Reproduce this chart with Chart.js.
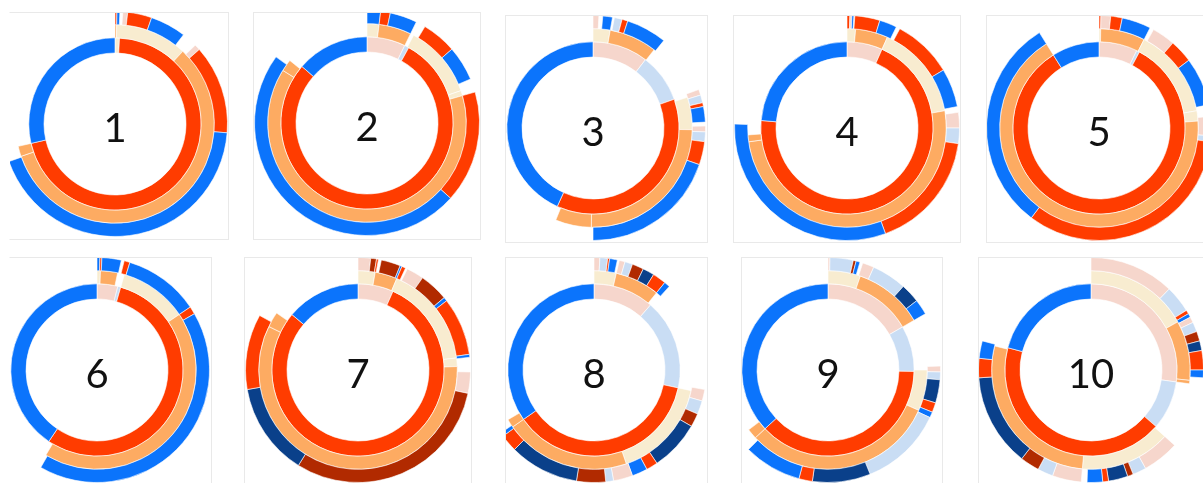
<!DOCTYPE html>
<html>
<head>
<meta charset="utf-8">
<script src="https://cdn.jsdelivr.net/npm/chart.js@4"></script>
<style>
  body { margin: 0; background: #fff; width: 1203px; height: 483px; overflow: hidden; position: relative; }
  .panel { position: absolute; overflow: hidden; border: 1px solid #e9e9e9; box-sizing: border-box; }
  .panel.noleft { border-left-color: transparent; }
  .panel canvas { position: absolute; }
</style>
</head>
<body>
<script>
// segment sizes in degrees, clockwise from 12 o'clock
// categories: B blue, R red, O orange, Y beige, P pink, L light blue, D dark blue, M maroon, _ empty
const panelLabels = ["1", "2", "3", "4", "5", "6", "7", "8", "9", "10"];

const p1Inner = [3, 254, 103];
const p1InnerCats = ["Y", "R", "B"];
const p1Mid = [1, 42, 208, 6, 103];
const p1MidCats = ["O", "Y", "O", "O", "_"];
const p1Outer = [1, 1.5, 1.5, 2.5, 12.5, 18.5, 8, 3, 46, 156, 109.5];
const p1OuterCats = ["R", "B", "_", "P", "R", "B", "_", "P", "R", "B", "_"];

const p2Inner = [26, 3, 282, 49];
const p2InnerCats = ["P", "L", "R", "B"];
const p2Mid = [7, 19, 2, 43, 3, 228, 7, 51];
const p2MidCats = ["Y", "O", "_", "Y", "Y", "O", "O", "_"];
const p2Outer = [7, 5, 14, 5, 18, 18, 7, 58, 174, 54];
const p2OuterCats = ["B", "R", "B", "_", "R", "B", "_", "R", "B", "_"];

const p3Inner = [37.5, 33, 134, 155.5];
const p3InnerCats = ["P", "L", "R", "B"];
const p3Mid = [10, 28, 34, 19, 90, 21, 158];
const p3MidCats = ["Y", "O", "_", "Y", "O", "O", "_"];
const p3Outer = [3, 2, 5, 1, 4, 3, 21, 31, 3, 4, 2, 8, 2, 3, 5, 12, 71, 180];
const p3OuterCats = ["P", "_", "B", "_", "L", "R", "B", "_", "P", "L", "R", "B", "_", "P", "L", "R", "B", "_"];

const p4Inner = [24, 251, 85];
const p4InnerCats = ["P", "R", "B"];
const p4Mid = [5, 19, 56, 182, 4, 94];
const p4MidCats = ["Y", "O", "Y", "O", "O", "_"];
const p4Outer = [1.5, 1, 1, 0.5, 13, 9, 2, 31, 20, 3, 8, 8, 62, 112, 88];
const p4OuterCats = ["R", "P", "B", "_", "R", "B", "_", "R", "B", "_", "P", "L", "R", "B", "_"];

const p5Inner = [26, 2, 300, 32];
const p5InnerCats = ["P", "L", "R", "B"];
const p5Mid = [1, 26, 53, 6, 242, 32];
const p5MidCats = ["Y", "O", "Y", "Y", "O", "_"];
const p5Outer = [1, 5, 6, 15, 2, 12, 12, 25, 6, 10, 3, 120, 111, 32];
const p5OuterCats = ["R", "P", "R", "B", "_", "P", "R", "B", "_", "P", "L", "R", "B", "_"];

const p6Inner = [14, 2, 198, 146];
const p6InnerCats = ["P", "L", "R", "B"];
const p6Mid = [2, 10, 4, 40, 155, 149];
const p6MidCats = ["Y", "O", "_", "Y", "O", "_"];
const p6Outer = [1.5, 1, 10, 1.5, 3, 39, 4, 150, 150];
const p6OuterCats = ["B", "R", "B", "_", "R", "B", "R", "B", "_"];

const p7Inner = [24, 286, 50];
const p7InnerCats = ["P", "R", "B"];
const p7Mid = [10, 13, 60, 5, 208, 9, 55];
const p7MidCats = ["Y", "O", "Y", "Y", "O", "O", "_"];
const p7Outer = [6.5, 3, 1, 1.5, 10, 1, 2, 1, 9, 15, 2, 30, 1.5, 7.5, 11, 110, 48, 39, 61];
const p7OuterCats = ["P", "M", "R", "_", "M", "B", "R", "_", "P", "M", "B", "R", "B", "_", "P", "M", "D", "R", "_"];

const p8Inner = [41, 61, 133, 125];
const p8InnerCats = ["P", "L", "R", "B"];
const p8Mid = [13, 26, 63, 59, 74, 5, 120];
const p8MidCats = ["Y", "O", "_", "Y", "O", "O", "_"];
const p8Outer = [3, 4, 1, 4, 1, 3, 4, 6, 6, 7, 3, 58, 6, 7, 7, 26, 6, 8, 10, 4, 15, 36, 9, 2, 124];
const p8OuterCats = ["P", "L", "R", "B", "_", "P", "L", "M", "D", "R", "B", "_", "P", "L", "M", "D", "R", "B", "P", "L", "M", "D", "R", "B", "_"];

const p9Inner = [60, 31, 136, 133];
const p9InnerCats = ["P", "L", "R", "B"];
const p9Mid = [19, 41, 30, 24, 113, 6, 127];
const p9MidCats = ["Y", "O", "_", "Y", "O", "O", "_"];
const p9Outer = [1, 12, 1.5, 2, 1.5, 6, 18, 10, 8, 28, 3, 4, 12, 5, 3, 43, 30, 7, 30, 135];
const p9OuterCats = ["P", "L", "M", "B", "_", "P", "L", "D", "B", "_", "P", "L", "D", "R", "B", "L", "D", "R", "B", "_"];

const p10Inner = [98, 33, 154, 75];
const p10InnerCats = ["P", "L", "R", "B"];
const p10Mid = [61, 35, 2, 34, 53, 99, 76];
const p10MidCats = ["Y", "O", "O", "_", "Y", "O", "_"];
const p10Outer = [44, 14, 2, 2, 3, 5, 5, 5, 10, 4, 38, 19, 7, 3, 10, 3, 8, 3, 15, 8, 10, 48, 10, 9, 75];
const p10OuterCats = ["P", "L", "R", "B", "P", "L", "M", "D", "R", "B", "_", "P", "L", "M", "D", "R", "B", "_", "P", "L", "M", "D", "R", "B", "_"];

const rings = [
  [p1Inner, p1InnerCats, p1Mid, p1MidCats, p1Outer, p1OuterCats],
  [p2Inner, p2InnerCats, p2Mid, p2MidCats, p2Outer, p2OuterCats],
  [p3Inner, p3InnerCats, p3Mid, p3MidCats, p3Outer, p3OuterCats],
  [p4Inner, p4InnerCats, p4Mid, p4MidCats, p4Outer, p4OuterCats],
  [p5Inner, p5InnerCats, p5Mid, p5MidCats, p5Outer, p5OuterCats],
  [p6Inner, p6InnerCats, p6Mid, p6MidCats, p6Outer, p6OuterCats],
  [p7Inner, p7InnerCats, p7Mid, p7MidCats, p7Outer, p7OuterCats],
  [p8Inner, p8InnerCats, p8Mid, p8MidCats, p8Outer, p8OuterCats],
  [p9Inner, p9InnerCats, p9Mid, p9MidCats, p9Outer, p9OuterCats],
  [p10Inner, p10InnerCats, p10Mid, p10MidCats, p10Outer, p10OuterCats]
];

const palette = {
  B: "#0b74fc", R: "#ff3c00", O: "#fdab62", Y: "#f8ecd0",
  P: "#f6d6cc", L: "#c9ddf4", D: "#0a408a", M: "#b12a00", _: "rgba(0,0,0,0)"
};

// panel frames [left, top, right, bottom] and chart centres [cx, cy]
const frames = [
  [9, 12, 229, 240], [253, 12, 481, 240], [505, 15, 708, 243], [733, 15, 961, 243], [986, 15, 1215, 243],
  [9, 257, 212, 495], [244, 257, 472, 495], [505, 257, 708, 495], [741, 257, 943, 495], [978, 257, 1215, 495]
];
const centres = [
  [115, 124], [367, 123], [593, 128], [847, 128], [1099, 128],
  [97, 370], [358, 370], [594, 370], [828, 370], [1091, 370]
];

const SIZE = 240;
const OUTER_R = 112.5;
const INNER_R = 71;

const centerLabel = {
  id: "centerLabel",
  afterDraw(chart, args, opts) {
    const ctx = chart.ctx;
    const arc = chart.getDatasetMeta(0).data[0];
    ctx.save();
    ctx.font = "40px Lato";
    ctx.fillStyle = "#111";
    ctx.textAlign = "center";
    ctx.textBaseline = "middle";
    ctx.fillText(opts.text, arc.x, arc.y + 5);
    ctx.restore();
  }
};

function ring(values, cats, weight) {
  return {
    data: values,
    backgroundColor: cats.map(c => palette[c]),
    borderColor: cats.map(c => c === "_" ? "rgba(0,0,0,0)" : "rgba(255,255,255,0.6)"),
    borderWidth: 1,
    weight: weight
  };
}

rings.forEach((r, i) => {
  const [l, t, rt, b] = frames[i];
  const [cx, cy] = centres[i];
  const div = document.createElement("div");
  div.className = "panel" + (l < 20 ? " noleft" : "");
  div.style.left = l + "px";
  div.style.top = t + "px";
  div.style.width = (rt - l) + "px";
  div.style.height = (b - t) + "px";
  const canvas = document.createElement("canvas");
  canvas.width = SIZE;
  canvas.height = SIZE;
  canvas.style.left = (cx - SIZE / 2 - l - 1) + "px";
  canvas.style.top = (cy - SIZE / 2 - t - 1) + "px";
  div.appendChild(canvas);
  document.body.appendChild(div);

  const maxLen = Math.max(r[0].length, r[2].length, r[4].length);
  new Chart(canvas, {
    type: "doughnut",
    data: {
      labels: Array.from({ length: maxLen }, (_, k) => "s" + (k + 1)),
      datasets: [
        ring(r[4], r[5], 13),
        ring(r[2], r[3], 13),
        ring(r[0], r[1], 15)
      ]
    },
    options: {
      responsive: false,
      animation: false,
      events: [],
      radius: OUTER_R,
      cutout: (INNER_R / OUTER_R * 100) + "%",
      layout: { padding: 0 },
      plugins: {
        legend: { display: false },
        tooltip: { enabled: false },
        centerLabel: { text: panelLabels[i] }
      }
    },
    plugins: [centerLabel]
  });
});
</script>
</body>
</html>
